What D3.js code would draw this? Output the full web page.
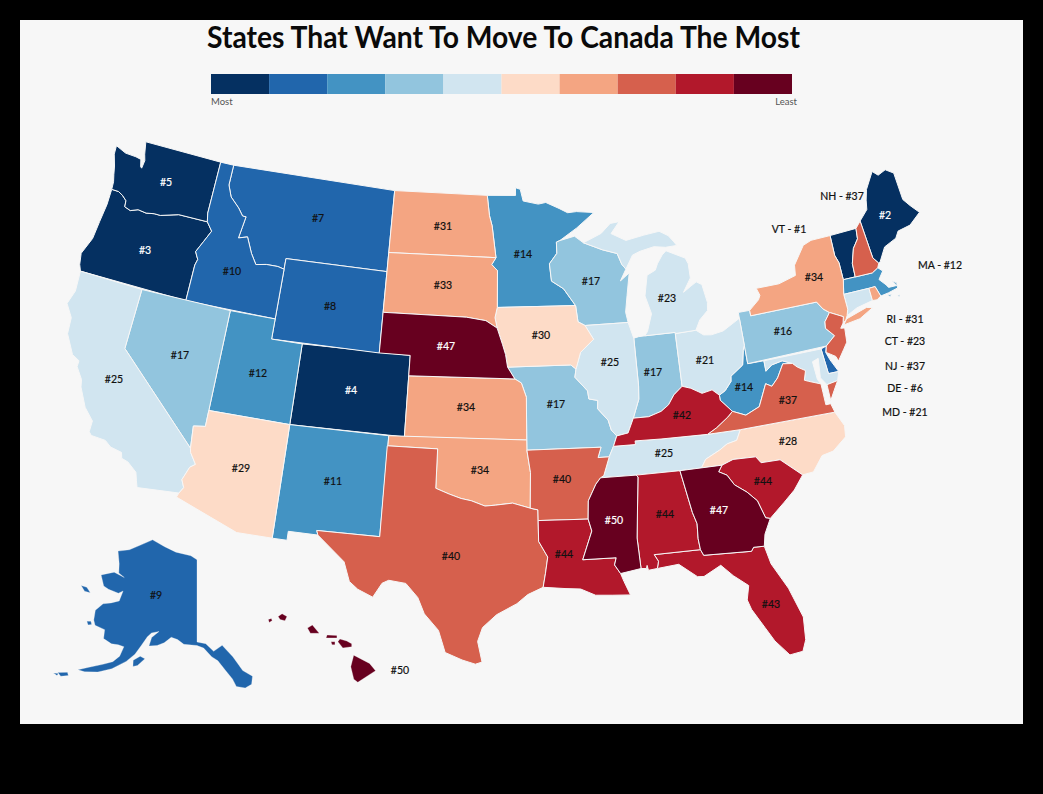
<!DOCTYPE html>
<html>
<head>
<meta charset="utf-8">
<script src="https://cdn.jsdelivr.net/npm/d3@7"></script>
<style>
    html, body { margin: 0; background: #000; }
    text { font-family: Lato, "Noto Sans", sans-serif; }
</style>
</head>
<body>
<svg id="chart" width="1043" height="794"></svg>
<script>
const titleText = 'States That Want To Move To Canada The Most';
const legendEnds = ['Most', 'Least'];
const rankBreaks = [6, 11, 16, 21, 28, 31, 37, 42, 47];

const stateCodes = ['VT','ME','OR','CO','WA','DE','MT','WY','AK','ID','NM','UT','MA','MN','WV','PA','NV','WI','MO','IN','OH','MD','MI','CT','CA','IL','TN','NC','AZ','IA','ND','RI','SD','NY','KS','OK','NH','NJ','VA','TX','AR','KY','FL','LA','AL','SC','NE','GA','MS','HI'];
const stateRanks = [1,2,3,4,5,6,7,8,9,10,11,12,12,14,14,16,17,17,17,17,21,21,23,23,25,25,25,28,29,30,31,31,33,34,34,34,37,37,37,40,40,42,43,44,44,44,47,47,50,50];

// outlines in lon/lat
const stateRings = {
    WA: [[[-124.7,48.38],[-123.9,48.17],[-123.1,48.15],[-122.7,48.1],[-122.55,47.75],[-122.45,47.7],[-122.4,48.1],[-122.55,48.4],[-122.75,49],[-117.03,49],[-117.04,46.42],[-116.92,46],[-118.98,46],[-119.3,45.93],[-120.2,45.73],[-120.65,45.73],[-121.2,45.65],[-121.8,45.7],[-122.3,45.55],[-122.75,45.65],[-122.8,45.95],[-123.15,46.15],[-123.5,46.27],[-124,46.27],[-124.05,46.65],[-124.2,47],[-124.35,47.4],[-124.65,47.95]]],
    OR: [[[-124,46.27],[-123.5,46.27],[-123.15,46.15],[-122.8,45.95],[-122.75,45.65],[-122.3,45.55],[-121.8,45.7],[-121.2,45.65],[-120.65,45.73],[-120.2,45.73],[-119.3,45.93],[-118.98,46],[-116.92,46],[-116.47,45.6],[-116.85,45],[-117.2,44.45],[-117.05,44.25],[-116.93,44.1],[-117.03,43.8],[-117.03,42],[-124.21,42],[-124.4,42.3],[-124.55,42.84],[-124.15,43.7],[-124.07,44.6],[-123.97,45.5]]],
    CA: [[[-124.21,42],[-120,42],[-120,39],[-114.63,35],[-114.57,34.8],[-114.14,34.27],[-114.43,34.08],[-114.72,33.4],[-114.52,33.03],[-114.72,32.72],[-117.12,32.53],[-117.25,32.85],[-117.4,33.25],[-118,33.65],[-118.4,33.75],[-118.5,34.03],[-119.2,34.15],[-119.6,34.4],[-120.47,34.45],[-120.65,34.6],[-120.65,35.15],[-121.3,35.7],[-121.9,36.6],[-122,36.95],[-122.5,37.5],[-122.5,37.8],[-123,38],[-123.7,38.9],[-123.8,39.7],[-124.35,40.3],[-124.1,41]]],
    NV: [[[-120,42],[-114.04,42],[-114.04,36.2],[-114.75,36.1],[-114.63,35],[-120,39]]],
    AZ: [[[-114.04,37],[-109.05,37],[-109.05,31.33],[-111.07,31.33],[-114.81,32.5],[-114.72,32.72],[-114.52,33.03],[-114.72,33.4],[-114.43,34.08],[-114.14,34.27],[-114.57,34.8],[-114.63,35],[-114.75,36.1],[-114.04,36.2]]],
    UT: [[[-114.04,42],[-111.05,42],[-111.05,41],[-109.05,41],[-109.05,37],[-114.04,37]]],
    ID: [[[-117.03,49],[-116.05,49],[-116.05,48],[-115.7,47.45],[-115,47],[-114.6,46.65],[-114.35,46.65],[-114.45,46.1],[-114.55,45.56],[-113.95,45.7],[-113.45,44.95],[-113,44.45],[-112.3,44.55],[-111.5,44.55],[-111.05,44.47],[-111.05,42],[-117.03,42],[-117.03,43.8],[-116.93,44.1],[-117.05,44.25],[-117.2,44.45],[-116.85,45],[-116.47,45.6],[-116.92,46],[-117.04,46.42]]],
    MT: [[[-116.05,49],[-104.05,49],[-104.05,45],[-111.05,45],[-111.05,44.47],[-111.5,44.55],[-112.3,44.55],[-113,44.45],[-113.45,44.95],[-113.95,45.7],[-114.55,45.56],[-114.45,46.1],[-114.35,46.65],[-114.6,46.65],[-115,47],[-115.7,47.45],[-116.05,48]]],
    WY: [[[-111.05,45],[-104.05,45],[-104.05,41],[-111.05,41]]],
    CO: [[[-109.05,41],[-102.05,41],[-102.05,37],[-109.05,37]]],
    NM: [[[-109.05,37],[-103,37],[-103.04,32],[-106.62,32],[-106.53,31.78],[-108.21,31.78],[-108.21,31.33],[-109.05,31.33]]],
    ND: [[[-104.05,49],[-97.23,49],[-97.05,48],[-96.85,47.5],[-96.56,45.94],[-104.05,45.94]]],
    SD: [[[-104.05,45.94],[-96.56,45.94],[-96.85,45.6],[-96.45,45.3],[-96.45,43.5],[-96.6,43],[-96.45,42.49],[-97.2,42.85],[-98.5,43],[-104.05,43]]],
    NE: [[[-104.05,43],[-98.5,43],[-97.2,42.85],[-96.45,42.49],[-96.1,41.7],[-95.9,41.2],[-95.77,40.58],[-95.31,40],[-102.05,40],[-102.05,41],[-104.05,41]]],
    KS: [[[-102.05,40],[-95.31,40],[-94.9,39.8],[-94.6,39.1],[-94.62,37],[-102.05,37]]],
    OK: [[[-103,37],[-94.62,37],[-94.62,36.5],[-94.43,35.4],[-94.48,33.64],[-95.5,33.9],[-96.5,33.8],[-97.1,33.75],[-97.9,34],[-98.5,34.1],[-99.2,34.3],[-100,34.56],[-100,36.5],[-103,36.5]]],
    TX: [[[-103.04,36.5],[-100,36.5],[-100,34.56],[-99.2,34.3],[-98.5,34.1],[-97.9,34],[-97.1,33.75],[-96.5,33.8],[-95.5,33.9],[-94.48,33.64],[-94.04,33.55],[-94.04,31.99],[-93.55,31.2],[-93.7,30.4],[-93.85,29.7],[-94.7,29.35],[-95.3,28.9],[-96.4,28.35],[-97.15,27.7],[-97.4,27],[-97.15,25.96],[-97.5,25.85],[-98.2,26.05],[-99.1,26.4],[-99.5,27.5],[-100.3,28.3],[-100.7,29.1],[-101.4,29.77],[-102.35,29.87],[-102.7,29.7],[-103.15,28.97],[-104,29.3],[-104.5,29.65],[-104.9,30.6],[-106.53,31.78],[-106.62,32],[-103.04,32]]],
    MN: [[[-97.23,49],[-95.15,49],[-95.15,49.38],[-94.8,49.3],[-94.6,48.72],[-93.5,48.55],[-92.95,48.62],[-92,48.3],[-91.4,48.07],[-90.75,48.1],[-89.5,48],[-90.8,47.3],[-92.05,46.72],[-92.3,46.65],[-92.3,46.1],[-92.85,45.6],[-92.75,44.75],[-91.95,44.35],[-91.2,43.5],[-96.45,43.5],[-96.45,45.3],[-96.85,45.6],[-96.56,45.94],[-96.85,47.5],[-97.05,48]]],
    IA: [[[-96.45,43.5],[-91.2,43.5],[-91.1,42.7],[-90.65,42.5],[-90.15,41.8],[-91.05,41.2],[-91.4,40.4],[-91.72,40.61],[-95.77,40.58],[-95.9,41.2],[-96.1,41.7],[-96.45,42.49],[-96.6,43]]],
    MO: [[[-95.77,40.58],[-91.72,40.61],[-91.4,40.4],[-91.5,40],[-90.75,39.3],[-90.7,38.9],[-90.15,38.8],[-90.2,38.4],[-89.6,37.8],[-89.45,37.3],[-89.15,37],[-89.4,36.5],[-89.7,36],[-90.37,36],[-90.15,36.5],[-94.62,36.5],[-94.62,37],[-94.6,39.1],[-94.9,39.8],[-95.31,40]]],
    AR: [[[-94.62,36.5],[-90.15,36.5],[-90.37,36],[-89.7,36],[-90.1,35.1],[-90.3,35],[-90.6,34.7],[-91.1,33.9],[-91.17,33],[-94.04,33.02],[-94.04,33.55],[-94.48,33.64],[-94.43,35.4]]],
    LA: [[[-94.04,33.02],[-91.17,33],[-91,32.4],[-91.6,31],[-89.73,31],[-89.85,30.65],[-89.55,30.2],[-89.4,29.8],[-89.1,29.1],[-90.1,29.15],[-91,29.2],[-91.8,29.55],[-92.6,29.6],[-93.85,29.7],[-93.7,30.4],[-93.55,31.2],[-94.04,31.99]]],
    MS: [[[-91.17,33],[-91.1,33.9],[-90.6,34.7],[-90.3,35],[-88.2,35],[-88.1,34.9],[-88.47,31.9],[-88.4,30.37],[-89.55,30.2],[-89.85,30.65],[-89.73,31],[-91.6,31],[-91,32.4]]],
    AL: [[[-88.2,35],[-85.6,35],[-85.18,32.87],[-85,32.3],[-85.05,31.55],[-85,31],[-87.6,31],[-87.4,30.65],[-87.5,30.3],[-88,30.25],[-88.05,30.5],[-88.1,30.35],[-88.4,30.37],[-88.47,31.9],[-88.1,34.9]]],
    GA: [[[-85.6,35],[-83.1,35],[-83.35,34.7],[-82.9,34.48],[-82.55,33.95],[-81.9,33.5],[-81.4,33],[-81.1,32.1],[-80.85,32.03],[-81.3,31.3],[-81.45,30.72],[-82.05,30.75],[-82.2,30.57],[-84.86,30.7],[-85,31],[-85.05,31.55],[-85,32.3],[-85.18,32.87]]],
    FL: [[[-87.6,31],[-85,31],[-84.86,30.7],[-82.2,30.57],[-82.05,30.75],[-81.45,30.72],[-81.25,29.8],[-80.55,28.45],[-80.05,26.9],[-80.15,25.75],[-80.4,25.2],[-81.1,25.13],[-81.75,25.95],[-82.15,26.7],[-82.7,27.7],[-82.85,28.2],[-82.65,28.9],[-83.4,29.5],[-84,30.1],[-85,29.65],[-85.35,29.68],[-86.3,30.4],[-87.5,30.3],[-87.4,30.65]]],
    SC: [[[-83.35,34.7],[-83.1,35],[-82.4,35.2],[-81.05,35.15],[-80.8,34.82],[-79.67,34.8],[-78.55,33.86],[-79.2,33.2],[-79.9,32.7],[-80.85,32.03],[-81.1,32.1],[-81.4,33],[-81.9,33.5],[-82.55,33.95],[-82.9,34.48]]],
    NC: [[[-84.32,35],[-83.1,35],[-82.4,35.2],[-81.05,35.15],[-80.8,34.82],[-79.67,34.8],[-78.55,33.86],[-77.9,33.9],[-77.2,34.6],[-76.5,34.7],[-75.6,35.25],[-75.5,35.8],[-75.87,36.55],[-81.68,36.59],[-82,36.1],[-82.6,36],[-83.1,35.75],[-84,35.4]]],
    TN: [[[-90.3,35],[-88.2,35],[-85.6,35],[-84.32,35],[-84,35.4],[-83.1,35.75],[-82.6,36],[-82,36.1],[-81.68,36.59],[-83.68,36.6],[-86.5,36.65],[-88.07,36.68],[-88.07,36.5],[-89.4,36.5],[-89.7,36],[-90.1,35.1]]],
    KY: [[[-89.4,36.5],[-88.07,36.5],[-88.07,36.68],[-86.5,36.65],[-83.68,36.6],[-83.1,36.85],[-82.3,37.3],[-81.97,37.54],[-82.6,38.17],[-82.6,38.42],[-83,38.73],[-83.65,38.63],[-84.3,38.95],[-84.82,39.1],[-85.4,38.73],[-85.8,38.28],[-86.3,38],[-87.1,37.8],[-88.05,37.8],[-88.45,37.1],[-89.15,37]]],
    IL: [[[-90.65,42.5],[-87.8,42.49],[-87.55,41.75],[-87.53,41.7],[-87.53,39.35],[-87.6,38.7],[-88.05,37.8],[-88.45,37.1],[-89.15,37],[-89.45,37.3],[-89.6,37.8],[-90.2,38.4],[-90.15,38.8],[-90.7,38.9],[-90.75,39.3],[-91.5,40],[-91.4,40.4],[-91.05,41.2],[-90.15,41.8]]],
    IN: [[[-87.53,41.7],[-87.2,41.75],[-86.82,41.76],[-84.81,41.76],[-84.82,39.1],[-85.4,38.73],[-85.8,38.28],[-86.3,38],[-87.1,37.8],[-88.05,37.8],[-87.6,38.7],[-87.53,39.35]]],
    OH: [[[-84.81,41.7],[-83.45,41.73],[-83,41.45],[-82.5,41.4],[-81.7,41.5],[-80.52,41.98],[-80.52,40.64],[-80.65,40.4],[-80.85,39.7],[-81.7,39.25],[-81.75,39],[-82.2,38.6],[-82.6,38.42],[-83,38.73],[-83.65,38.63],[-84.3,38.95],[-84.82,39.1]]],
    MI: [[[-86.82,41.76],[-84.81,41.76],[-84.81,41.7],[-83.45,41.73],[-83.1,42.2],[-82.5,42.6],[-82.42,43],[-82.6,43.9],[-82.95,44.07],[-83.35,43.9],[-83.9,43.65],[-83.3,44.3],[-83.3,45],[-83.45,45.3],[-84.7,45.78],[-85,45.6],[-85.4,45.2],[-85.6,44.9],[-86.2,44.7],[-86.5,43.7],[-86.2,42.8],[-86.6,41.95]],
         [[-90.4,46.55],[-89.1,46.95],[-88.4,47.4],[-87.75,47.45],[-88.4,46.9],[-87.4,46.5],[-86.1,46.67],[-85,46.77],[-84.4,46.5],[-84.1,46.2],[-83.9,45.97],[-84.7,45.95],[-85.5,46.05],[-86.5,45.9],[-87.05,45.75],[-87.6,45.1],[-87.85,45.35],[-88.1,45.9],[-89.1,46.14]]],
    WI: [[[-92.3,46.65],[-92.05,46.72],[-91,46.9],[-90.4,46.55],[-89.1,46.14],[-88.1,45.9],[-87.85,45.35],[-87.6,45.1],[-88.05,44.55],[-87.4,44.9],[-87.7,43.8],[-87.9,43],[-87.8,42.49],[-90.65,42.5],[-91.1,42.7],[-91.2,43.5],[-91.95,44.35],[-92.75,44.75],[-92.85,45.6],[-92.3,46.1]]],
    PA: [[[-80.52,42.27],[-79.76,42.27],[-79.76,42],[-75.35,42],[-75.05,41.6],[-74.7,41.36],[-75.13,40.97],[-75.2,40.65],[-74.75,40.2],[-75.42,39.8],[-80.52,39.72],[-80.52,40.64],[-80.52,41.98]]],
    NY: [[[-79.76,42.27],[-79.05,42.7],[-78.9,42.9],[-79.05,43.27],[-77.5,43.27],[-76.3,43.5],[-76.2,44],[-75.3,44.85],[-74.7,45],[-73.35,45],[-73.4,44],[-73.25,43.6],[-73.27,42.75],[-73.5,42.05],[-73.5,41.3],[-73.65,41],[-73.8,40.8],[-74.02,40.7],[-73.9,41],[-74.7,41.36],[-75.05,41.6],[-75.35,42],[-79.76,42]],
         [[-74,40.6],[-73.75,40.85],[-72.3,41.15],[-71.9,41.07],[-72.9,40.7]]],
    NJ: [[[-74.7,41.36],[-73.9,41],[-74.02,40.7],[-74.25,40.48],[-74,40.45],[-74.1,39.75],[-74.4,39.45],[-74.9,38.95],[-75,39.2],[-75.53,39.5],[-75.42,39.8],[-74.75,40.2],[-75.2,40.65],[-75.13,40.97]]],
    DE: [[[-75.79,39.72],[-75.42,39.8],[-75.55,39.5],[-75.4,39.1],[-75.05,38.45],[-75.7,38.46]]],
    MD: [[[-79.48,39.72],[-75.79,39.72],[-75.7,38.46],[-75.05,38.45],[-75.25,38.03],[-75.95,37.95],[-76.25,38.35],[-76.1,39.3],[-76.5,39.2],[-76.45,38.3],[-76.3,38.05],[-77,38.3],[-77.25,38.4],[-77.05,38.85],[-77.5,39.1],[-77.75,39.32],[-78.35,39.55],[-79.05,39.45],[-79.48,39.2]]],
    VA: [[[-83.68,36.6],[-81.68,36.59],[-75.87,36.55],[-76,37],[-76.3,37],[-76.3,37.6],[-76.3,38.05],[-77,38.3],[-77.25,38.4],[-77.05,38.85],[-77.5,39.1],[-77.75,39.32],[-78.35,39.4],[-78.85,38.77],[-79.3,38.42],[-79.65,38.6],[-80.3,37.55],[-81.2,37.25],[-81.97,37.54],[-82.3,37.3],[-83.1,36.85]],
         [[-75.25,38.03],[-75.95,37.95],[-75.95,37.15],[-75.6,37.6]]],
    WV: [[[-81.97,37.54],[-82.6,38.17],[-82.6,38.42],[-82.2,38.6],[-81.75,39],[-81.7,39.25],[-80.85,39.7],[-80.65,40.4],[-80.52,40.64],[-80.52,39.72],[-79.48,39.72],[-79.48,39.2],[-79.05,39.45],[-78.35,39.55],[-77.75,39.32],[-78.35,39.4],[-78.85,38.77],[-79.3,38.42],[-79.65,38.6],[-80.3,37.55],[-81.2,37.25]]],
    CT: [[[-73.5,42.05],[-71.8,42.02],[-71.8,41.4],[-72.9,41.25],[-73.65,41],[-73.5,41.3]]],
    RI: [[[-71.8,42.02],[-71.38,42.02],[-71.2,41.5],[-71.5,41.37],[-71.8,41.4]]],
    MA: [[[-73.5,42.05],[-73.27,42.75],[-71.3,42.7],[-70.85,42.87],[-70.6,42.65],[-71,42.3],[-70.65,41.95],[-70.55,41.8],[-70,41.78],[-70.2,42.07],[-69.95,41.9],[-70,41.65],[-70.65,41.55],[-71.2,41.5],[-71.38,42.02],[-71.8,42.02]],
         [[-70.8,41.45],[-70.5,41.45],[-70.6,41.35]],[[-70.2,41.3],[-69.97,41.3],[-70.05,41.22]]],
    VT: [[[-73.35,45],[-71.5,45.01],[-71.6,44.5],[-72.05,44.1],[-72.4,43.4],[-72.46,42.73],[-73.27,42.75],[-73.25,43.6],[-73.4,44]]],
    NH: [[[-71.5,45.01],[-71.08,45.3],[-70.98,43.4],[-70.7,43.07],[-70.85,42.87],[-71.3,42.7],[-72.46,42.73],[-72.4,43.4],[-72.05,44.1],[-71.6,44.5]]],
    ME: [[[-71.08,45.3],[-70.4,45.75],[-70.25,46.2],[-70,46.7],[-69.23,47.46],[-68.9,47.2],[-68.3,47.35],[-67.8,47.07],[-67.8,45.7],[-67.45,45.3],[-67,44.85],[-67.9,44.4],[-68.8,44.3],[-69.1,44],[-70,43.75],[-70.6,43.1],[-70.7,43.07],[-70.98,43.4]]],
    AK: [[[-141,69.65],[-143,70.1],[-148,70.4],[-152,70.85],[-156.5,71.35],[-160,70.4],[-163,69.5],[-166.2,68.9],[-164.5,67.6],[-163.7,66.6],[-161.8,66.3],[-165,66.5],[-168.1,65.65],[-166.3,64.6],[-164.8,64.45],[-162,64.4],[-161,64.8],[-161.2,63.6],[-163,63.1],[-164.8,62.7],[-166,61.7],[-165.5,60.6],[-164.8,60.1],[-162.4,60],[-162,59],[-160,58.7],[-158.5,58.8],[-157.2,58.75],[-157.6,57.6],[-158.7,56.8],[-160.5,56.2],[-163,55.4],[-164.9,54.7],[-163.5,54.75],[-161,55.2],[-158.5,56],[-156,57.2],[-154.5,58.2],[-153.5,59.3],[-152.5,60.4],[-151.7,60.9],[-150,61.2],[-151.5,60.4],[-151.8,59.4],[-150,59.6],[-148.5,60],[-147,60.7],[-145.5,60.5],[-144,60],[-141,59.9],[-139.5,59.6],[-137.8,58.6],[-136.5,58.1],[-135,56.9],[-133.8,55.9],[-133.2,55],[-131.5,54.7],[-130.15,55],[-129.7,55.9],[-131.5,56.7],[-133.2,58.4],[-135.3,59.8],[-137.3,59.2],[-139,60.1],[-141,60.3]],
         [[-154.6,57.5],[-153.3,58.1],[-152.2,57.9],[-153.5,57],[-154.4,56.8]],
         [[-166.9,60.2],[-166,60.35],[-165.6,60.05],[-166.3,59.85]],
         [[-171.7,63.6],[-170.2,63.7],[-168.8,63.3],[-170.3,63.2]],
         [[-168.3,53.55],[-166.6,54],[-166.2,53.7],[-167.5,53.3]],
         [[-169,53.3],[-168.1,53.5],[-168.2,53.2]]],
    HI: [[[-155.9,20.25],[-155.1,19.85],[-154.8,19.5],[-155.7,18.95],[-155.9,19.1],[-156.05,19.7]],
         [[-156.7,20.9],[-156.6,21.03],[-156.25,20.93],[-156,20.8],[-156,20.65],[-156.45,20.6]],
         [[-157.3,21.08],[-157.25,21.22],[-156.75,21.2],[-156.75,21.08]],
         [[-157.05,20.9],[-156.85,20.9],[-156.85,20.75],[-157,20.75]],
         [[-158.25,21.55],[-158,21.7],[-157.65,21.3],[-158.1,21.3]],
         [[-159.75,22.1],[-159.55,22.23],[-159.3,22.1],[-159.4,21.9],[-159.65,21.95]],
         [[-160.25,21.95],[-160.1,22],[-160.05,21.9],[-160.2,21.8]]]
};

const rankColor = d3.scaleThreshold()
    .domain(rankBreaks)
    .range(d3.schemeRdBu[10].slice().reverse());

const projLower = d3.geoConicEqualArea().parallels([33, 50]).rotate([96, 0]).center([0, 37.5])
    .scale(1158).translate([504, 430]);
const projAlaska = d3.geoConicEqualArea().parallels([55, 65]).rotate([141, 0]).center([0, 60.3])
    .scale(505).translate([197, 642]);
const projHawaii = d3.geoConicEqualArea().parallels([8, 18]).rotate([157, 0]).center([0, 20.5])
    .scale(1200).translate([332, 650]);

// the source map is a bit wider than a true conic, so stretch x around the centre
const widen = d3.scaleLinear().domain([504, 1504]).range([504, 1532.5]);
const widenX = d3.geoTransform({
    point(x, y) { this.stream.point(widen(x), y); }
});

const pathLower = d3.geoPath({ stream: s => projLower.stream(widenX.stream(s)) });
const pathAlaska = d3.geoPath(projAlaska);
const pathHawaii = d3.geoPath(projHawaii);

function pathFor(code) {
    if (code === 'AK') return pathAlaska;
    if (code === 'HI') return pathHawaii;
    return pathLower;
}

// d3.geo wants clockwise rings, otherwise it fills the rest of the globe
function toPolygon(ring) {
    const closed = ring.concat([ring[0]]);
    const area = d3.geoArea({ type: 'Polygon', coordinates: [closed] });
    return [area > 2 * Math.PI ? closed.slice().reverse() : closed];
}

const states = stateCodes.map((code, i) => ({
    type: 'Feature',
    id: code,
    rank: stateRanks[i],
    geometry: { type: 'MultiPolygon', coordinates: stateRings[code].map(toPolygon) }
}));

const svg = d3.select('#chart');

svg.append('rect').attr('x', 20).attr('y', 20).attr('width', 1003).attr('height', 704).attr('fill', '#f7f7f7');

svg.append('text')
    .attr('x', 207).attr('y', 48)
    .attr('font-size', 30).attr('font-weight', 700)
    .attr('fill', '#0a0a0a')
    .attr('textLength', 593).attr('lengthAdjust', 'spacingAndGlyphs')
    .text(titleText);

// legend
const legendX = d3.scaleBand().domain(d3.range(10)).range([211, 792]);
svg.selectAll('rect.legend').data(rankColor.range()).join('rect')
    .attr('class', 'legend')
    .attr('x', (d, i) => legendX(i))
    .attr('y', 74)
    .attr('width', legendX.bandwidth())
    .attr('height', 20)
    .attr('fill', d => d);
svg.append('text').attr('x', 211).attr('y', 105).attr('font-size', 9.5).attr('fill', '#555').text(legendEnds[0]);
svg.append('text').attr('x', 797).attr('y', 105).attr('font-size', 9.5).attr('fill', '#555').attr('text-anchor', 'end').text(legendEnds[1]);

svg.selectAll('path.state').data(states).join('path')
    .attr('class', 'state')
    .attr('d', d => pathFor(d.id)(d))
    .attr('fill', d => rankColor(d.rank))
    .attr('stroke', '#f7f7f7')
    .attr('stroke-width', d => (d.id === 'AK' || d.id === 'HI') ? 0.3 : 1)
    .attr('stroke-linejoin', 'round');

// label placement, picked by eye
const labelPlace = {
    WA:[166,182],OR:[145,250],CA:[114,379],NV:[180,355],ID:[232,271],MT:[318,218],WY:[330,306],UT:[258,373],AZ:[241,468],CO:[351,390],
    NM:[333,481],ND:[443,226],SD:[443,285],NE:[446,346],KS:[466,407],OK:[480,470],TX:[451,556],MN:[523,254],IA:[541,335],MO:[556,404],
    AR:[562,479],LA:[564,554],WI:[591,281],IL:[610,362],MS:[614,520],AL:[665,514],GA:[719,510],FL:[771,604],SC:[763,481],NC:[788,441],
    TN:[664,453],KY:[682,415],IN:[653,372],OH:[705,360],MI:[667,298],WV:[744,387],VA:[788,400],PA:[783,331],NY:[814,277],ME:[885,215],
    AK:[156,595],HI:[400,670]
};
const calloutPlace = {
    NH:[842,196],VT:[789,229],MA:[940,265],RI:[905,319],CT:[905,341],NJ:[905,366],DE:[905,388],MD:[905,412]
};
const lightText = ['WA','OR','CO','NE','MS','GA','ME'];

const rankByCode = new Map(stateCodes.map((c, i) => [c, stateRanks[i]]));

svg.selectAll('text.rank').data(Object.keys(labelPlace)).join('text')
    .attr('class', 'rank')
    .attr('x', c => labelPlace[c][0])
    .attr('y', c => labelPlace[c][1])
    .attr('dy', '0.35em')
    .attr('text-anchor', 'middle')
    .attr('font-size', 10.5)
    .attr('fill', c => lightText.includes(c) ? '#fff' : '#111')
    .attr('stroke', c => lightText.includes(c) ? '#fff' : '#111')
    .attr('stroke-width', 0.2)
    .text(c => '#' + rankByCode.get(c));

svg.selectAll('text.callout').data(Object.keys(calloutPlace)).join('text')
    .attr('class', 'callout')
    .attr('x', c => calloutPlace[c][0])
    .attr('y', c => calloutPlace[c][1])
    .attr('dy', '0.35em')
    .attr('text-anchor', 'middle')
    .attr('font-size', 10.5)
    .attr('fill', '#111')
    .attr('stroke', '#111')
    .attr('stroke-width', 0.2)
    .text(c => c + ' - #' + rankByCode.get(c));
</script>
</body>
</html>
